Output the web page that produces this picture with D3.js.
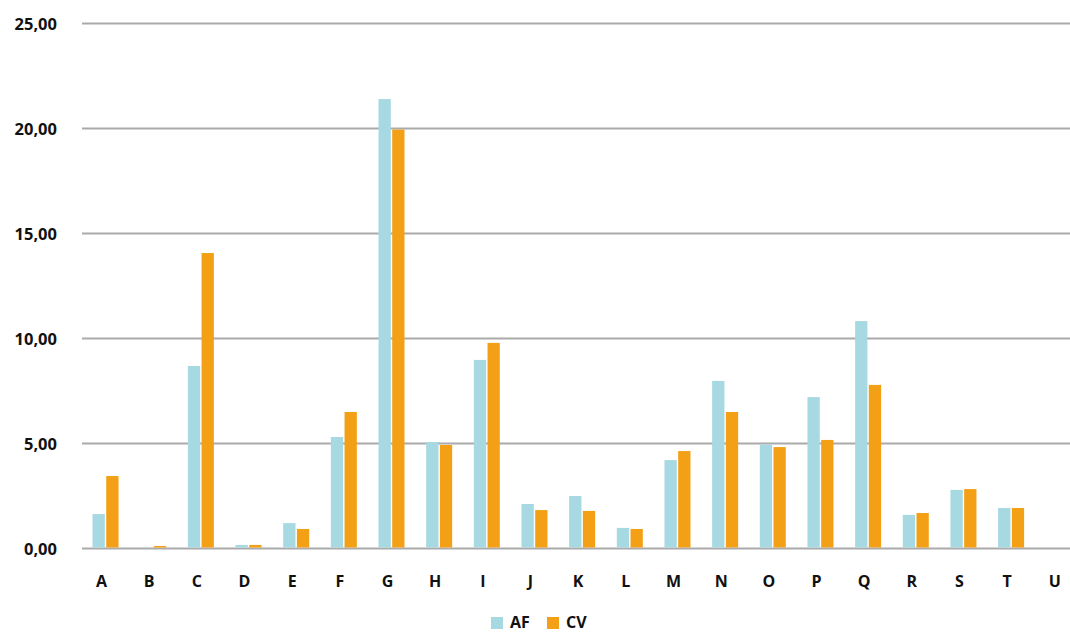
<!DOCTYPE html>
<html>
<head>
<meta charset="utf-8">
<script src="https://cdn.jsdelivr.net/npm/d3@7"></script>
<style>
  body { margin: 0; background: #fff; }
  svg text { font-family: "Open Sans", sans-serif; font-weight: 700; fill: #111; }
</style>
</head>
<body>
<svg id="chart" width="1070" height="632"></svg>
<script>
var categories = ['A','B','C','D','E','F','G','H','I','J','K','L','M','N','O','P','Q','R','S','T','U'];
var seriesNames = ['AF', 'CV'];
var afValues = [1.64, 0, 8.69, 0.17, 1.21, 5.31, 21.4, 5.07, 8.98, 2.12, 2.5, 0.98, 4.21, 7.98, 4.95, 7.21, 10.83, 1.6, 2.79, 1.93, 0];
var cvValues = [3.45, 0.12, 14.07, 0.17, 0.93, 6.5, 19.95, 4.93, 9.79, 1.83, 1.79, 0.93, 4.64, 6.5, 4.83, 5.17, 7.79, 1.69, 2.83, 1.93, 0];
var yTicks = [0, 5, 10, 15, 20, 25];
var colors = ['#a6d9e2', '#f4a016'];

var svg = d3.select('#chart');
var plot = { left: 82, right: 1070, top: 23.5, bottom: 548.5 };

var x = d3.scaleBand()
  .domain(categories)
  .range([81.7, 1082.6])
  .paddingInner(0)
  .paddingOuter(0);

var y = d3.scaleLinear()
  .domain([0, 25])
  .range([plot.bottom, plot.top]);

var fmt = function(v) { return d3.format('.2f')(v).replace('.', ','); };

// gridlines
svg.append('g').selectAll('line')
  .data(yTicks)
  .enter().append('line')
  .attr('x1', plot.left)
  .attr('x2', plot.right)
  .attr('y1', function(d) { return y(d); })
  .attr('y2', function(d) { return y(d); })
  .style('stroke', '#aaaaaa')
  .style('stroke-width', 2);

// y labels
svg.append('g').selectAll('text')
  .data(yTicks)
  .enter().append('text')
  .attr('x', 57)
  .attr('y', function(d) { return y(d) + 6; })
  .attr('text-anchor', 'end')
  .style('font-size', '16.5px')
  .text(fmt);

var barW = 12.3, gap = 1.4;
var series = [afValues, cvValues];
series.forEach(function(vals, si) {
  svg.append('g').selectAll('rect')
    .data(vals)
    .enter().append('rect')
    .attr('x', function(d, i) {
      var c = x(categories[i]) + x.bandwidth() / 2;
      return si === 0 ? c - gap / 2 - barW : c + gap / 2;
    })
    .attr('width', barW)
    .attr('y', function(d) { return y(d); })
    .attr('height', function(d) { return Math.max(0, y(0) - y(d) - 1); })
    .style('fill', colors[si]);
});

// x labels
svg.append('g').selectAll('text')
  .data(categories)
  .enter().append('text')
  .attr('x', function(d) { return x(d) + x.bandwidth() / 2 - 4; })
  .attr('y', 587)
  .attr('text-anchor', 'middle')
  .style('font-size', '16px')
  .text(function(d) { return d; });

// legend
var legend = svg.append('g');
var legendX = [491, 547];
seriesNames.forEach(function(name, i) {
  legend.append('rect')
    .attr('x', legendX[i])
    .attr('y', 617)
    .attr('width', 12)
    .attr('height', 12)
    .style('fill', colors[i]);
  legend.append('text')
    .attr('x', legendX[i] + 19)
    .attr('y', 628)
    .style('font-size', '16px')
    .text(name);
});
</script>
</body>
</html>
